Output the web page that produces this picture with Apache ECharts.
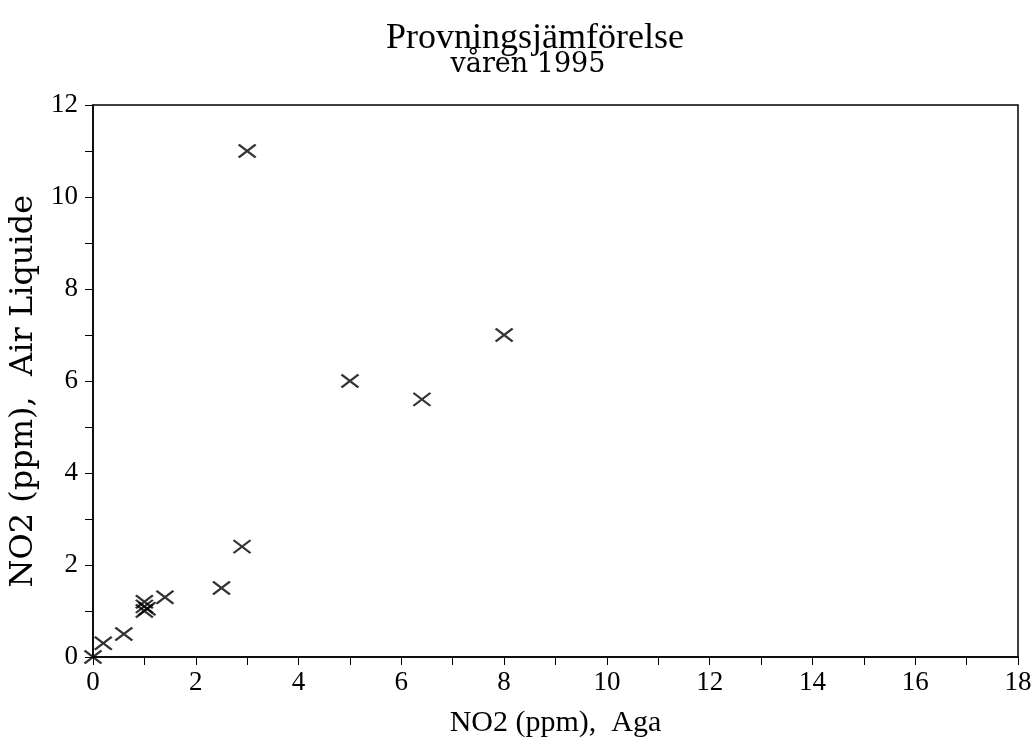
<!DOCTYPE html>
<html>
<head>
<meta charset="utf-8">
<script src="https://cdn.jsdelivr.net/npm/echarts@6/dist/echarts.min.js"></script>
<style>
  html, body { margin: 0; padding: 0; background: #fff; }
  #chart { width: 1036px; height: 743px; }
</style>
</head>
<body>
<div id="chart"></div>
<script>
// Aga vs Air Liquide, NO2 in ppm
const agaValues = [0, 0.2, 0.6, 1.0, 1.0, 1.05, 1.0, 1.4, 2.5, 2.9, 3.0, 5.0, 6.4, 8.0]
const airLiquideValues = [0, 0.3, 0.5, 1.2, 1.1, 1.05, 1.0, 1.3, 1.5, 2.4, 11.0, 6.0, 5.6, 7.0]
const xTicks = [0, 2, 4, 6, 8, 10, 12, 14, 16, 18]
const yTicks = [0, 2, 4, 6, 8, 10, 12]

var points = []
for (var i = 0; i < agaValues.length; i++) {
  points.push([agaValues[i], airLiquideValues[i]])
}

const serif = 'Liberation Serif'
const wide = 'DejaVu Serif'
let myChart = echarts.init(document.getElementById('chart'))
myChart.setOption({
  backgroundColor: '#fff',
  animation: false,
  title: [
    {
      text: 'Provningsjämförelse',
      left: 530,
      top: 16,
      textAlign: 'center',
      textStyle: { fontFamily: serif, fontSize: 36, fontWeight: 'normal', color: '#000' }
    },
    {
      text: 'våren 1995',
      left: 523,
      top: 46,
      textAlign: 'center',
      textStyle: { fontFamily: wide, fontSize: 27, fontWeight: 'normal', color: '#000' }
    }
  ],
  grid: {
    left: 93,
    right: 18,
    top: 105,
    bottom: 85,
    show: true,
    borderColor: '#000',
    borderWidth: 1.5
  },
  xAxis: {
    type: 'value',
    min: xTicks[0],
    max: xTicks[xTicks.length - 1],
    interval: 2,
    name: 'NO2 (ppm),  Aga',
    nameLocation: 'middle',
    nameGap: 51,
    nameTextStyle: { fontFamily: serif, fontSize: 30, color: '#000' },
    axisLine: { lineStyle: { color: '#000', width: 1.5 } },
    axisTick: { show: true, inside: false, length: 8, lineStyle: { color: '#000' } },
    minorTick: { show: true, splitNumber: 2, length: 8, lineStyle: { color: '#000' } },
    splitLine: { show: false },
    axisLabel: { fontFamily: serif, fontSize: 27, color: '#000', margin: 12 }
  },
  yAxis: {
    type: 'value',
    min: yTicks[0],
    max: yTicks[yTicks.length - 1],
    interval: 2,
    name: 'NO2 (ppm),  Air Liquide  ',
    nameLocation: 'middle',
    nameGap: 51,
    nameTextStyle: { fontFamily: wide, fontSize: 32, color: '#000' },
    axisLine: { lineStyle: { color: '#000', width: 1.5 } },
    axisTick: { show: true, inside: false, length: 8, lineStyle: { color: '#000' } },
    minorTick: { show: true, splitNumber: 2, length: 8, lineStyle: { color: '#000' } },
    splitLine: { show: false },
    axisLabel: { fontFamily: serif, fontSize: 27, color: '#000', margin: 15 }
  },
  series: [
    {
      type: 'scatter',
      data: points,
      symbol: 'path://M0,0L10,8M10,0L0,8',
      symbolSize: [17, 13],
      itemStyle: { color: 'none', borderColor: '#000', borderWidth: 2.2 }
    }
  ]
})
</script>
</body>
</html>
